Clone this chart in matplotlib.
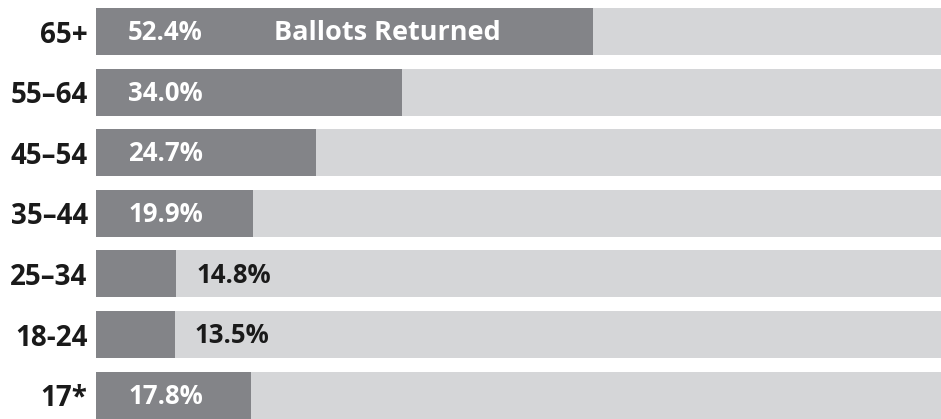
import numpy as np
from matplotlib import pyplot as plt

# age groups, top to bottom, and the share of ballots returned
groups = ["65+", "55\u201364", "45\u201354", "35\u201344", "25\u201334", "18-24", "17*"]
pct_labels = ["52.4%", "34.0%", "24.7%", "19.9%", "14.8%", "13.5%", "17.8%"]
# dark bar lengths as drawn in the original (0-100 scale of the light track)
bar_length = [58.8, 36.2, 26.0, 18.6, 9.5, 9.3, 18.3]
# labels that sit outside the dark bar (short bars)
outside = [False, False, False, False, True, True, False]

dark = "#838488"
light = "#d5d6d8"
plt.rcParams['font.family'] = ['Open Sans', 'DejaVu Sans']

fig = plt.figure(figsize=(9.41, 4.19), dpi=100)
ax = fig.add_axes([96 / 941, 0, 1 - 96 / 941, 1])

y = np.arange(len(groups))
h = 0.775
ax.barh(y, [100] * len(groups), height=h, color=light, left=0)
ax.barh(y, bar_length, height=h, color=dark, left=0)

for i, (lab, L, out) in enumerate(zip(pct_labels, bar_length, outside)):
    if out:
        ax.text(L + 2.4, i + 0.02, lab, color="#1a1a1a", fontsize=18.5,
                fontweight="bold", va="center", ha="left")
    else:
        ax.text(3.8, i + 0.02, lab, color="white", fontsize=18.5,
                fontweight="bold", va="center", ha="left")

ax.text(21.1, 0.02, "Ballots Returned", color="white", fontsize=19.5,
        fontweight="bold", va="center", ha="left")

ax.set_xlim(0, 100)
ax.set_ylim(6.394, -0.52)
ax.set_xticks([])
ax.set_yticks(y)
ax.set_yticklabels(groups, fontsize=20, fontweight="bold", color="#1a1a1a")
ax.tick_params(axis="y", length=0, pad=6)
for s in ax.spines.values():
    s.set_visible(False)

fig.savefig("out.png", dpi=100)
